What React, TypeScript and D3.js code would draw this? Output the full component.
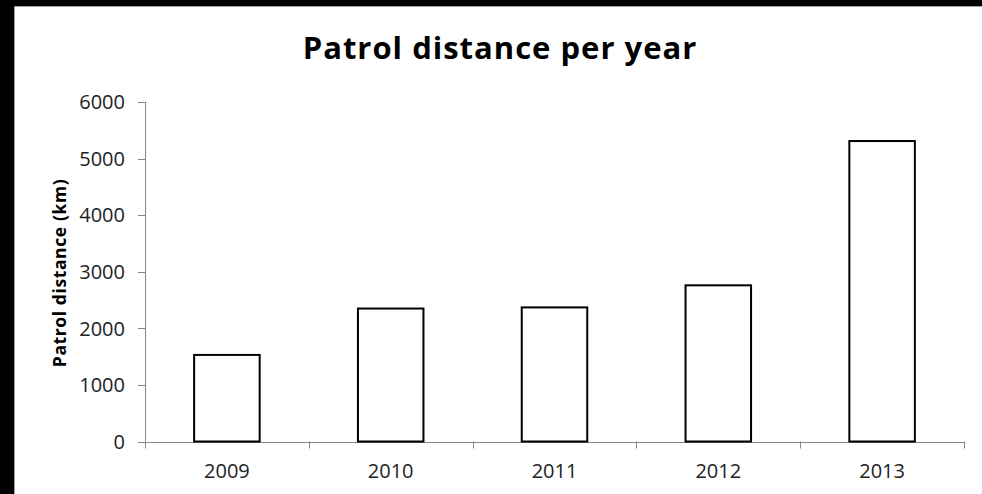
import React from "react";
import * as d3 from "d3";

// Patrol distance covered each year (km)
const years = ["2009", "2010", "2011", "2012", "2013"];
const distances = [1530, 2350, 2370, 2760, 5310];
const yTicks = [0, 1000, 2000, 3000, 4000, 5000, 6000];

const W = 982;
const H = 494;
const FONT = "'Open Sans', 'Noto Sans', sans-serif";
const AXIS = "#868686";

export default function App() {
  const plotLeft = 145;
  const plotRight = 964;
  const plotTop = 102;
  const plotBottom = 441.5;

  const x = d3
    .scaleBand<string>()
    .domain(years)
    .range([plotLeft, plotRight])
    .paddingInner(0.6)
    .paddingOuter(0.3);
  const y = d3.scaleLinear().domain([0, 6000]).range([plotBottom, plotTop]);
  const step = x.step();
  const boundaries = d3.range(years.length + 1).map((i) => plotLeft + i * step);

  return (
    <svg
      width={W}
      height={H}
      style={{ position: "fixed", left: 0, top: 0, display: "block" }}
    >
      <rect x={0} y={0} width={W} height={H} fill="#000" />
      <rect x={14.5} y={6.5} width={W} height={H} fill="#fff" stroke="#a0a0a0" strokeWidth={1} />

      <text
        x={500}
        y={59}
        textAnchor="middle"
        fontFamily={FONT}
        fontWeight={700}
        fontSize={31}
        letterSpacing={1}
        fill="#000"
      >
        Patrol distance per year
      </text>

      <text
        transform={`translate(66,273) rotate(-90)`}
        textAnchor="middle"
        fontFamily={FONT}
        fontWeight={700}
        fontSize={17.5}
        letterSpacing={0.6}
        fill="#000"
      >
        Patrol distance (km)
      </text>

      {/* y axis */}
      <line x1={plotLeft + 0.5} x2={plotLeft + 0.5} y1={plotTop} y2={plotBottom} stroke={AXIS} />
      {yTicks.map((t) => (
        <g key={t}>
          <line
            x1={plotLeft - 7}
            x2={plotLeft}
            y1={Math.round(y(t)) + 0.5}
            y2={Math.round(y(t)) + 0.5}
            stroke={AXIS}
          />
          <text
            x={125}
            y={y(t)}
            dy="0.36em"
            textAnchor="end"
            fontFamily={FONT}
            fontSize={20}
            fill="#222"
          >
            {t}
          </text>
        </g>
      ))}

      {/* x axis */}
      <line x1={plotLeft} x2={plotRight} y1={Math.round(plotBottom) + 0.5} y2={Math.round(plotBottom) + 0.5} stroke={AXIS} />
      {boundaries.map((bx, i) => (
        <line
          key={i}
          x1={Math.round(bx) + 0.5}
          x2={Math.round(bx) + 0.5}
          y1={plotBottom}
          y2={plotBottom + 7}
          stroke={AXIS}
        />
      ))}

      {/* bars */}
      {years.map((yr, i) => (
        <rect
          key={yr}
          x={x(yr)!}
          y={y(distances[i])}
          width={x.bandwidth()}
          height={plotBottom - y(distances[i])}
          fill="#fff"
          stroke="#000"
          strokeWidth={2}
        />
      ))}

      {years.map((yr) => (
        <text
          key={yr}
          x={x(yr)! + x.bandwidth() / 2}
          y={478}
          textAnchor="middle"
          fontFamily={FONT}
          fontSize={20}
          fill="#222"
        >
          {yr}
        </text>
      ))}
    </svg>
  );
}
